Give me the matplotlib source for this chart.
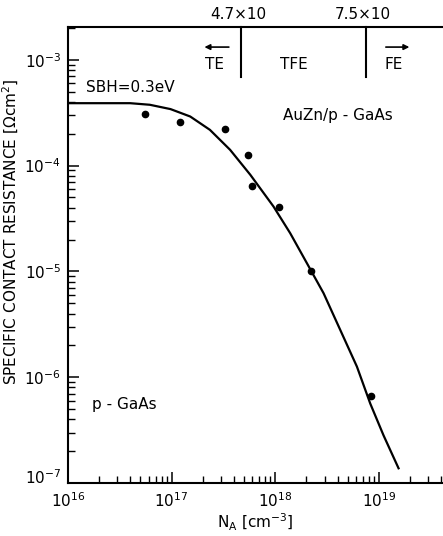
import numpy as np
import matplotlib
matplotlib.use('Agg')
import matplotlib.pyplot as plt
import matplotlib.transforms as mtransforms
from matplotlib.ticker import LogLocator, NullFormatter

# measured points (N_A in cm^-3, rho_c in Ohm cm^2)
na_meas = [5.5e16, 1.2e17, 3.3e17, 5.5e17, 6.0e17, 1.1e18, 2.2e18, 8.5e18]
rc_meas = [3.1e-4, 2.6e-4, 2.2e-4, 1.26e-4, 6.4e-5, 4.1e-5, 1.0e-5, 6.7e-7]

# theoretical curve, SBH = 0.3 eV (log10 values)
na_fit_log = [16.0, 16.3, 16.6, 16.79, 16.99, 17.18, 17.37, 17.565, 17.76,
              17.984, 18.145, 18.306, 18.467, 18.628, 18.789, 18.918, 19.046, 19.191]
rc_fit_log = [-3.41, -3.41, -3.41, -3.425, -3.466, -3.536, -3.662, -3.851, -4.087,
              -4.387, -4.639, -4.922, -5.206, -5.553, -5.90, -6.25, -6.55, -6.861]

# transition doping levels
bound_x = [4.7e17, 7.5e18]
bound_lbl = ['4.7×10', '7.5×10']

fig = plt.figure(figsize=(4.43, 5.36), dpi=100)
ax = fig.add_axes([0.1535, 0.0989, 0.8465, 0.8507])

ax.plot(10 ** np.array(na_fit_log), 10 ** np.array(rc_fit_log), color='black', lw=1.6)
ax.plot(na_meas, rc_meas, 'o', color='black', ms=4.5)

ax.set_xscale('log')
ax.set_yscale('log')
ax.set_xlim(1e16, 10 ** 19.62)
ax.set_ylim(1e-7, 10 ** -2.69)

ax.spines['right'].set_visible(False)
for s in ['left', 'bottom', 'top']:
    ax.spines[s].set_linewidth(1.5)

ax.xaxis.set_major_locator(LogLocator(base=10, numticks=10))
ax.xaxis.set_minor_locator(LogLocator(base=10, subs=np.arange(2, 10), numticks=20))
ax.yaxis.set_major_locator(LogLocator(base=10, numticks=10))
ax.yaxis.set_minor_locator(LogLocator(base=10, subs=np.arange(2, 10), numticks=20))
ax.xaxis.set_minor_formatter(NullFormatter())
ax.yaxis.set_minor_formatter(NullFormatter())
ax.tick_params(which='major', direction='in', length=8, width=1.1, labelsize=11,
               top=False, right=False)
ax.tick_params(which='minor', direction='in', length=5, width=1.0, top=False, right=False)
ax.tick_params(axis='x', pad=6)
ax.tick_params(axis='y', pad=5)

ax.set_xlabel(r'N$_\mathregular{A}$ [cm$^{-3}$]', fontsize=11, labelpad=1)
ax.set_ylabel(r'SPECIFIC CONTACT RESISTANCE [$\Omega$cm$^2$]', fontsize=11, labelpad=4)
ax.yaxis.set_label_coords(-0.125, 0.55)

# nudge the lowest y tick label up so it clears 10^16
fig.canvas.draw()
ylabels = ax.get_yticklabels()
for lab in ylabels:
    if lab.get_position()[1] <= 1.01e-7:
        lab.set_transform(lab.get_transform() +
                          mtransforms.ScaledTranslation(0, 5 / 72, fig.dpi_scale_trans))

# regime boundaries
tr = ax.get_xaxis_transform()
for xb, lb in zip(bound_x, bound_lbl):
    ax.plot([xb, xb], [1.0, 0.89], color='black', lw=1.5, transform=tr, clip_on=False)
    ax.text(xb * 0.93, 1.012, lb, transform=tr, ha='center', va='bottom', fontsize=11)

ax.annotate('', xy=(1.95e17, 0.956), xytext=(3.8e17, 0.956), xycoords=tr,
            arrowprops=dict(arrowstyle='-|>', color='black', lw=1.2, mutation_scale=8))
ax.text(2.6e17, 0.935, 'TE', transform=tr, ha='center', va='top', fontsize=11)
ax.text(1.5e18, 0.935, 'TFE', transform=tr, ha='center', va='top', fontsize=11)
ax.annotate('', xy=(2.1e19, 0.956), xytext=(1.1e19, 0.956), xycoords=tr,
            arrowprops=dict(arrowstyle='-|>', color='black', lw=1.2, mutation_scale=8))
ax.text(1.4e19, 0.935, 'FE', transform=tr, ha='center', va='top', fontsize=11)

ax.text(1.5e16, 5.5e-4, 'SBH=0.3eV', fontsize=11, ha='left', va='center')
ax.text(1.2e18, 3.0e-4, 'AuZn/p - GaAs', fontsize=11, ha='left', va='center')
ax.text(1.7e16, 5.5e-7, 'p - GaAs', fontsize=11, ha='left', va='center')

fig.savefig('out.png', dpi=100)
